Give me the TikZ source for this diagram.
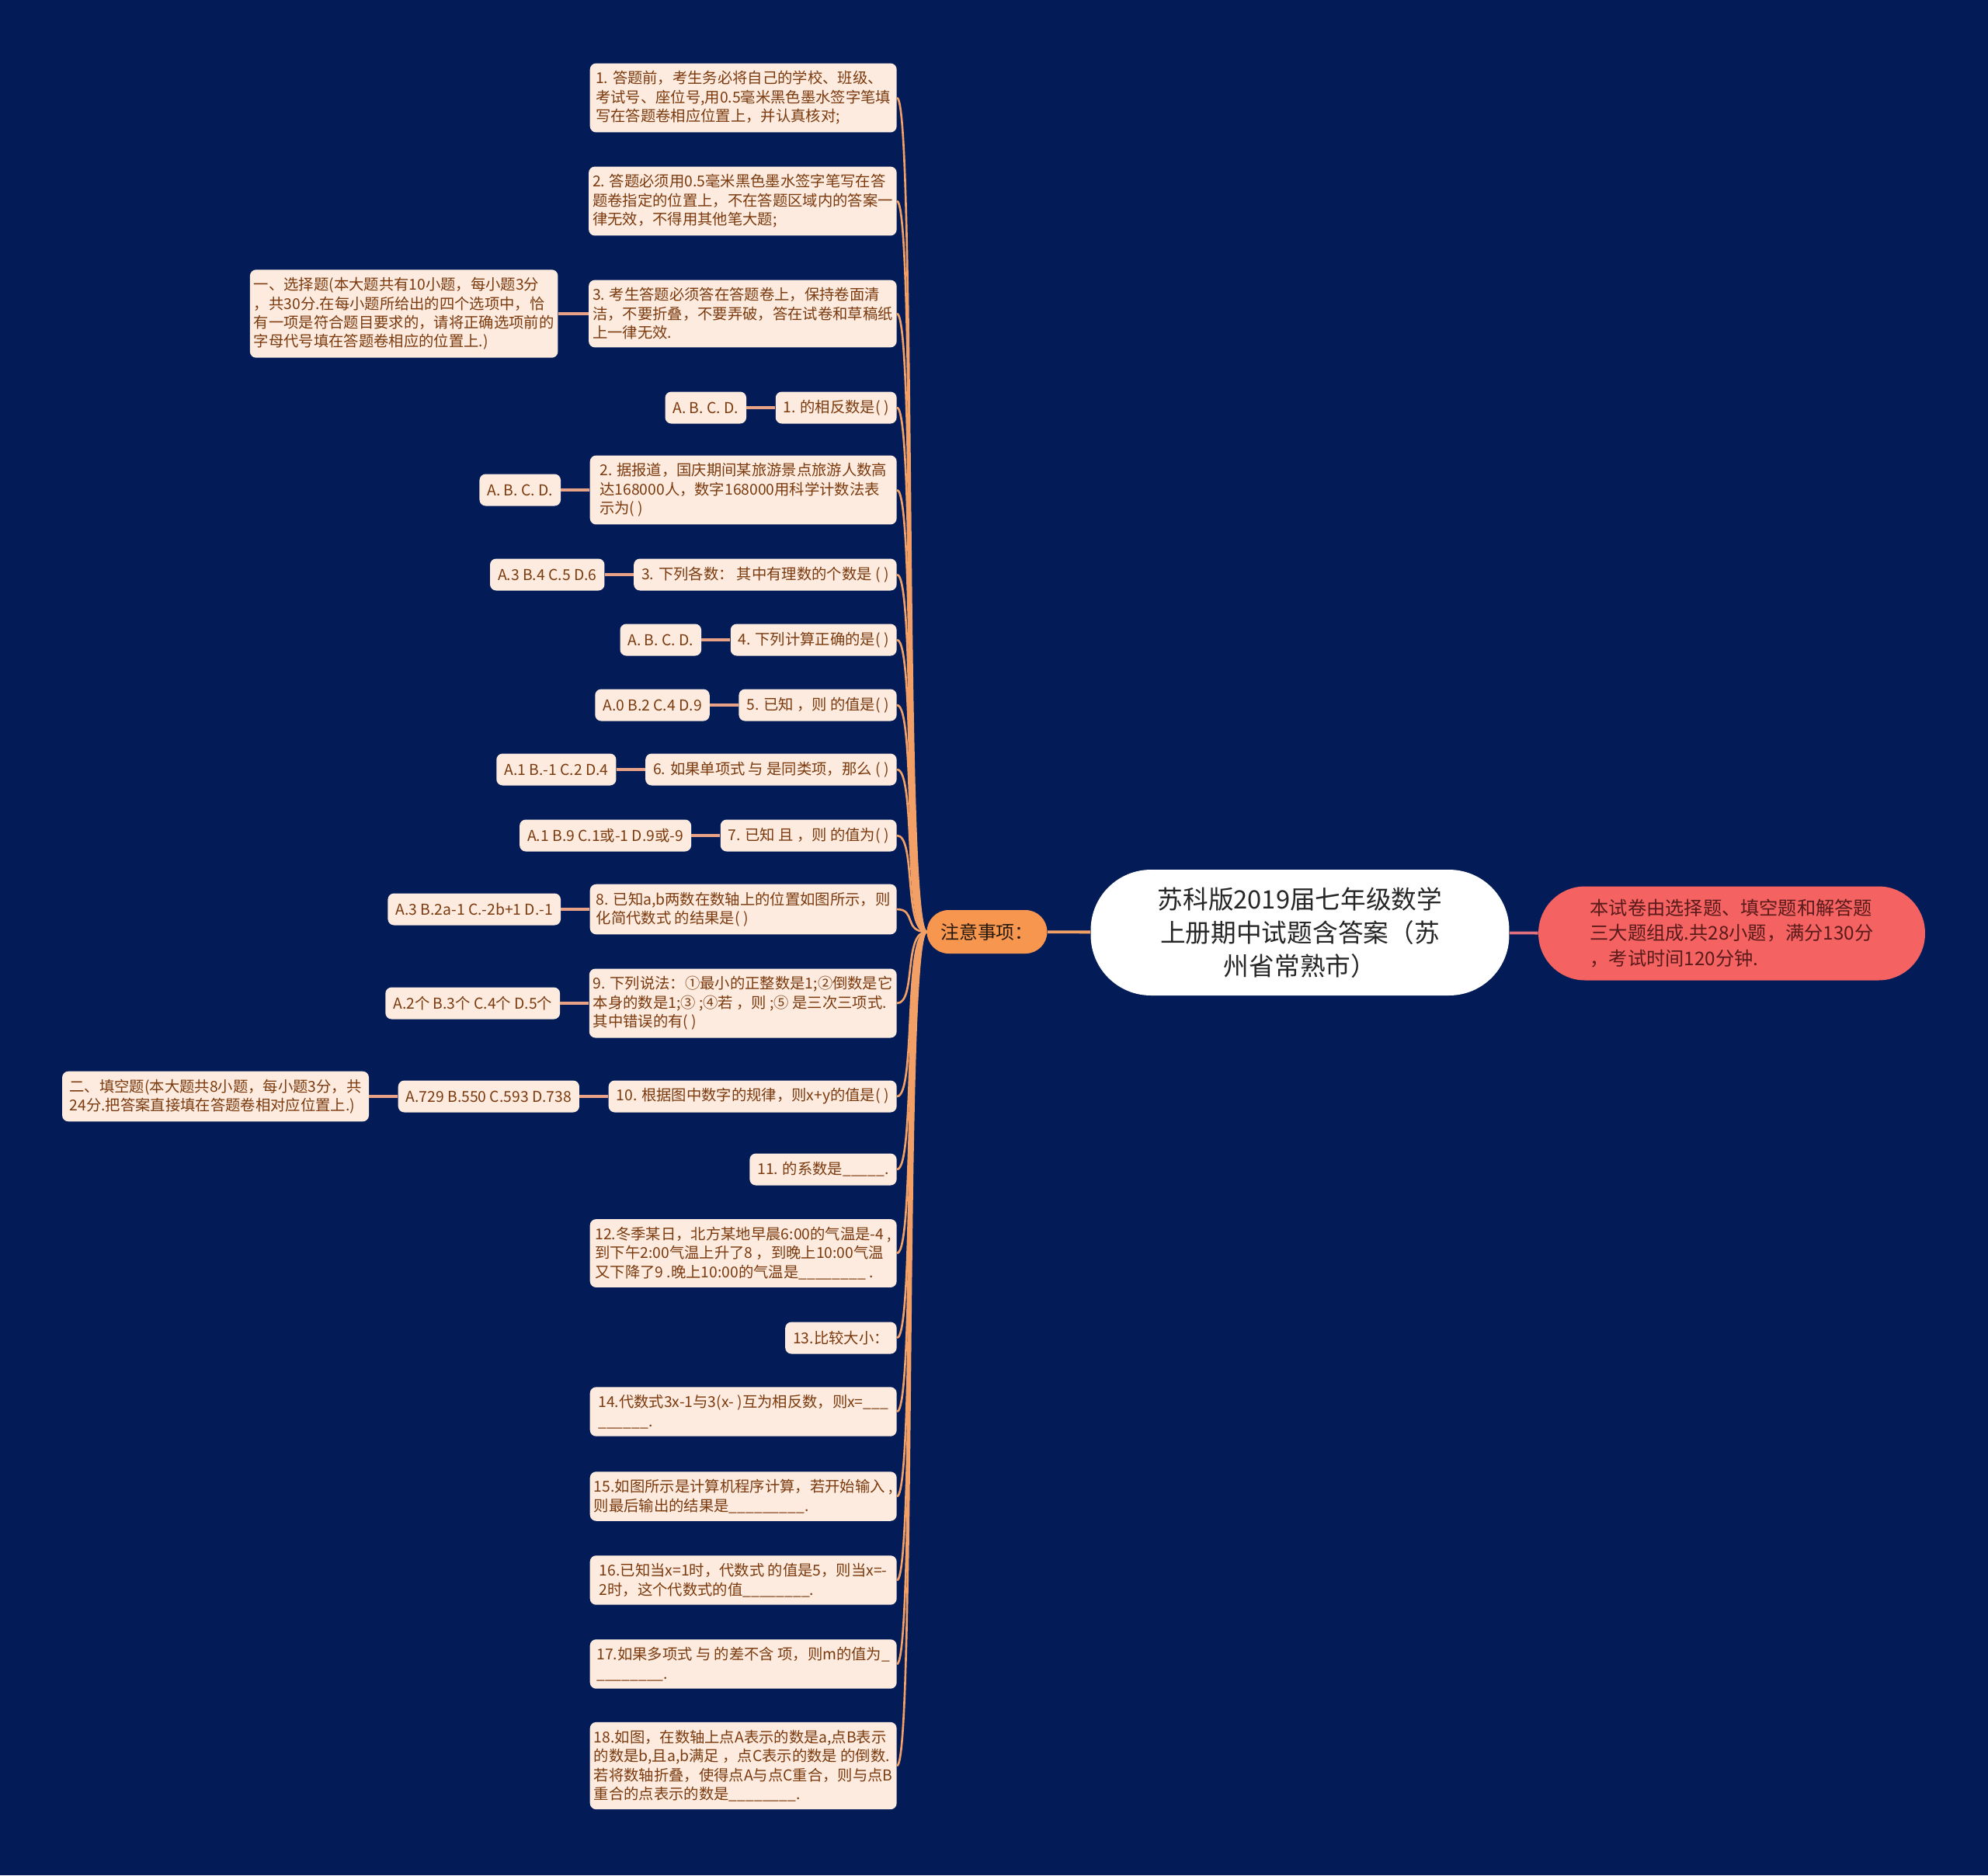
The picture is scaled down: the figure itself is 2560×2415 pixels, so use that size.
\documentclass[tikz,border=0pt]{standalone}
\usepackage{fontspec}
\setmainfont{Noto Sans CJK SC}
\usetikzlibrary{positioning}
\definecolor{navybg}{HTML}{031C57}
\definecolor{leaffill}{HTML}{FDEBDF}
\definecolor{leaftext}{HTML}{7B3A0E}
\definecolor{spinecol}{HTML}{F2A065}
\definecolor{linkcol}{HTML}{E9A285}
\definecolor{notefill}{HTML}{F7964F}
\definecolor{introfill}{HTML}{F46262}
\definecolor{introtext}{HTML}{5A1A1A}
\definecolor{pinkline}{HTML}{E0707E}

\begin{document}
\begin{tikzpicture}[x=0.02cm, y=-0.02cm,
    leaf/.style={rectangle, rounded corners=4.5pt, fill=leaffill, text=leaftext,
                 inner xsep=0.2cm, inner ysep=0.2cm, minimum height=0.82cm,
                 align=left, font=\fontsize{11}{13.9}\selectfont},
    wide/.style={leaf, inner xsep=0.1cm, minimum width=7.9cm},
    spine/.style={spinecol, line width=1.5pt},
    link/.style={linkcol, line width=2.2pt},
  ]
    \fill[navybg] (0,0) rectangle (2560,2415);

    \node[rectangle, rounded corners=1.55cm, fill=white, text=black!85,
          minimum width=10.78cm, minimum height=3.24cm, align=center,
          font=\fontsize{18.6}{24.6}\selectfont] (title) at (1674,1201)
          {苏科版2019届七年级数学\\上册期中试题含答案（苏\\州省常熟市）};
    \node[rectangle, rounded corners=0.56cm, fill=notefill, text=black!80!brown,
          minimum width=3.1cm, minimum height=1.12cm,
          font=\fontsize{13.6}{18}\selectfont] (note) at (1271,1200) {注意事项：};
    \node[rectangle, rounded corners=1.2cm, fill=introfill, text=introtext,
          minimum width=9.96cm, minimum height=2.42cm, align=left,
          font=\fontsize{13.8}{18.5}\selectfont] (intro) at (2230,1202)
          {本试卷由选择题、填空题和解答题\\三大题组成.共28小题，满分130分\\，考试时间120分钟.};

    \node[wide, anchor=east] (r1) at (1155,126) {1. 答题前，考生务必将自己的学校、班级、\\考试号、座位号,用0.5毫米黑色墨水签字笔填\\写在答题卷相应位置上，并认真核对;};
    \node[wide, anchor=east] (r2) at (1155,259) {2. 答题必须用0.5毫米黑色墨水签字笔写在答\\题卷指定的位置上，不在答题区域内的答案一\\律无效，不得用其他笔大题;};
    \node[wide, anchor=east] (r3) at (1155,404) {3. 考生答题必须答在答题卷上，保持卷面清\\洁，不要折叠，不要弄破，答在试卷和草稿纸\\上一律无效.};
    \node[wide, left=0.78cm of r3] (sec1) {一、选择题(本大题共有10小题，每小题3分\\，共30分.在每小题所给出的四个选项中，恰\\有一项是符合题目要求的，请将正确选项前的\\字母代号填在答题卷相应的位置上.)};

    \node[leaf, anchor=east] (q1) at (1155,525) {1. 的相反数是( )};
    \node[wide, anchor=east] (q2) at (1155,631) {2. 据报道，国庆期间某旅游景点旅游人数高\\达168000人，数字168000用科学计数法表\\示为( )};
    \node[leaf, anchor=east] (q3) at (1155,740) {3. 下列各数：\ 其中有理数的个数是 ( )};
    \node[leaf, anchor=east] (q4) at (1155,824) {4. 下列计算正确的是( )};
    \node[leaf, anchor=east] (q5) at (1155,908) {5. 已知 ，则 的值是( )};
    \node[leaf, anchor=east] (q6) at (1155,991) {6. 如果单项式 与 是同类项，那么 ( )};
    \node[leaf, anchor=east] (q7) at (1155,1076) {7. 已知 且 ，则 的值为( )};
    \node[wide, anchor=east] (q8) at (1155,1171) {8. 已知a,b两数在数轴上的位置如图所示，则\\化简代数式 的结果是( )};
    \node[wide, anchor=east] (q9) at (1155,1292) {9. 下列说法：①最小的正整数是1;②倒数是它\\本身的数是1;③ ;④若 ，则 ;⑤ 是三次三项式.\\其中错误的有( )};
    \node[leaf, anchor=east] (q10) at (1155,1412) {10. 根据图中数字的规律，则x+y的值是( )};

    \node[leaf, left=0.74cm of q1] (a1) {A. B. C. D.};
    \node[leaf, left=0.74cm of q2] (a2) {A. B. C. D.};
    \node[leaf, left=0.74cm of q3] (a3) {A.3 B.4 C.5 D.6};
    \node[leaf, left=0.74cm of q4] (a4) {A. B. C. D.};
    \node[leaf, left=0.74cm of q5] (a5) {A.0 B.2 C.4 D.9};
    \node[leaf, left=0.74cm of q6] (a6) {A.1 B.-1 C.2 D.4};
    \node[leaf, left=0.74cm of q7] (a7) {A.1 B.9 C.1或-1 D.9或-9};
    \node[leaf, left=0.74cm of q8] (a8) {A.3 B.2a-1 C.-2b+1 D.-1};
    \node[leaf, left=0.74cm of q9] (a9) {A.2个 B.3个 C.4个 D.5个};
    \node[leaf, left=0.74cm of q10] (a10) {A.729 B.550 C.593 D.738};
    \node[wide, left=0.74cm of a10] (sec2) {二、填空题(本大题共8小题，每小题3分，共\\24分.把答案直接填在答题卷相对应位置上.)};

    \node[leaf, anchor=east] (q11) at (1155,1506) {11. 的系数是\_\_\_\_\_.};
    \node[wide, anchor=east] (q12) at (1155,1614) {12.冬季某日，北方某地早晨6:00的气温是-4 ,\\到下午2:00气温上升了8 ，到晚上10:00气温\\又下降了9 .晚上10:00的气温是\_\_\_\_\_\_\_\_ .};
    \node[leaf, anchor=east] (q13) at (1155,1723) {13.比较大小：};
    \node[wide, anchor=east] (q14) at (1155,1818) {14.代数式3x-1与3(x- )互为相反数，则x=\_\_\_\\\_\_\_\_\_\_.};
    \node[wide, anchor=east] (q15) at (1155,1927) {15.如图所示是计算机程序计算，若开始输入 ,\\则最后输出的结果是\_\_\_\_\_\_\_\_\_.};
    \node[wide, anchor=east] (q16) at (1155,2035) {16.已知当x=1时，代数式 的值是5，则当x=-\\2时，这个代数式的值\_\_\_\_\_\_\_\_.};
    \node[wide, anchor=east] (q17) at (1155,2143) {17.如果多项式 与 的差不含 项，则m的值为\_\\\_\_\_\_\_\_\_\_.};
    \node[wide, anchor=east] (q18) at (1155,2274) {18.如图，在数轴上点A表示的数是a,点B表示\\的数是b,且a,b满足 ，点C表示的数是 的倒数.\\若将数轴折叠，使得点A与点C重合，则与点B\\重合的点表示的数是\_\_\_\_\_\_\_\_.};

    \draw[spinecol, line width=2.2pt] (title) -- (note);
    \draw[pinkline, line width=2.2pt] (title) -- (intro);
    \foreach \n in {r1,r2,r3,q1,q2,q3,q4,q5,q6,q7,q8,q9,q10,q11,q12,q13,q14,q15,q16,q17,q18}
      \draw[spine] (note.west) .. controls +(-30,0) and +(25,0) .. (\n.east);
    \foreach \a/\q in {a1/q1,a2/q2,a3/q3,a4/q4,a5/q5,a6/q6,a7/q7,a8/q8,a9/q9,a10/q10,sec1/r3,sec2/a10}
      \draw[link] (\a.east) -- (\q.west);
\end{tikzpicture}
\end{document}
